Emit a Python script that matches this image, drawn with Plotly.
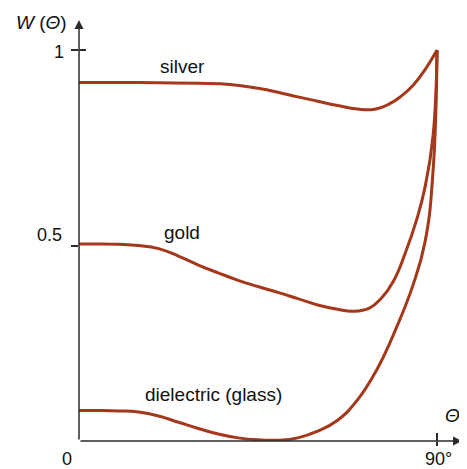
import plotly.graph_objects as go

# ---- data ----
theta_silver = [0, 10, 20, 30, 38, 45, 50, 55, 60, 65, 70, 74, 78, 81, 84, 87, 90]
w_silver     = [0.917, 0.917, 0.916, 0.915, 0.912, 0.902, 0.892, 0.880, 0.869, 0.858, 0.849, 0.848, 0.862, 0.882, 0.910, 0.950, 1.0]

theta_gold = [0, 5, 10, 15, 20, 25, 30, 35, 40, 45, 50, 55, 60, 65, 69, 73, 76, 79, 82, 85, 87, 89, 90]
w_gold     = [0.504, 0.504, 0.503, 0.500, 0.492, 0.473, 0.450, 0.430, 0.411, 0.395, 0.380, 0.364, 0.348, 0.337, 0.332, 0.340, 0.365, 0.408, 0.480, 0.570, 0.650, 0.780, 1.0]

theta_glass = [0, 5, 10, 15, 20, 25, 30, 35, 40, 45, 50, 55, 60, 65, 70, 75, 80, 84, 87, 89, 90]
w_glass     = [0.078, 0.078, 0.077, 0.074, 0.064, 0.048, 0.032, 0.018, 0.008, 0.003, 0.002, 0.008, 0.025, 0.053, 0.105, 0.185, 0.295, 0.400, 0.510, 0.690, 1.0]

series_names = ["silver", "gold", "dielectric (glass)"]
label_pos = [(25.9, 0.957), (25.9, 0.532), (33.7, 0.118)]

x_tick_vals = [90]
x_tick_text = ["90°"]
y_tick_vals = [0.5, 1]
y_tick_text = ["0.5", "1"]
origin_text = "0"

LINE = "#A5381B"
AX = "#2b2b2b"
TXT = "#111"
FONT = "Liberation Sans, Arial, sans-serif"

XMAX = 96.28
YMAX = 1.0767

fig = go.Figure()
for th, w, nm in zip([theta_silver, theta_gold, theta_glass], [w_silver, w_gold, w_glass], series_names):
    fig.add_trace(go.Scatter(x=th, y=w, mode="lines", name=nm,
                             line=dict(color=LINE, width=3, shape="spline", smoothing=1.3),
                             showlegend=False, hoverinfo="skip"))
# dummy trace for overlay axes (inside tick marks)
fig.add_trace(go.Scatter(x=[None], y=[None], xaxis="x2", yaxis="y2", showlegend=False))

common = dict(showgrid=False, zeroline=False, showline=False, showticklabels=False,
              automargin=False, tickwidth=1.5, tickcolor=AX)
# page body has an 8px margin, so the figure is 8px smaller and margins shifted
fig.update_layout(
    width=459, height=461,
    margin=dict(l=71, r=5, t=12, b=28, autoexpand=False),
    paper_bgcolor="white", plot_bgcolor="white",
    xaxis=dict(range=[0, XMAX], tickvals=x_tick_vals, ticks="outside", ticklen=4, **common),
    yaxis=dict(range=[0, YMAX], tickvals=y_tick_vals, ticks="outside", ticklen=7, **common),
    xaxis2=dict(range=[0, XMAX], overlaying="x", side="bottom",
                tickvals=x_tick_vals, ticks="inside", ticklen=8, **common),
    yaxis2=dict(range=[0, YMAX], overlaying="y", side="left",
                tickvals=[y_tick_vals[1]], ticks="inside", ticklen=7, **common),
)

def txt(size):
    return dict(family=FONT, size=size, color=TXT)

ann = []
# axis arrows
ann.append(dict(x=XMAX, y=0, ax=0, ay=0, xref="x", yref="y", axref="x", ayref="y",
                text="", showarrow=True, arrowhead=2, arrowsize=1.2, arrowwidth=1.5, arrowcolor=AX))
ann.append(dict(x=0, y=YMAX, ax=0, ay=0, xref="x", yref="y", axref="x", ayref="y",
                text="", showarrow=True, arrowhead=2, arrowsize=1.2, arrowwidth=1.5, arrowcolor=AX))
# axis titles
ann.append(dict(x=-0.097, y=0.993, xref="paper", yref="paper", text="<i>W</i> (<i>Θ</i>)",
                xanchor="center", yanchor="middle", showarrow=False, font=txt(19)))
ann.append(dict(x=93.8, y=0.064, xref="x", yref="y", text="<i>Θ</i>",
                xanchor="center", yanchor="middle", showarrow=False, font=txt(19)))
# tick labels
ann.append(dict(x=0, y=0, xref="x", yref="y", text=origin_text, showarrow=False,
                xanchor="center", yanchor="middle", xshift=-12, yshift=-18, font=txt(18)))
ann.append(dict(x=x_tick_vals[0], y=0, xref="x", yref="y", text=x_tick_text[0], showarrow=False,
                xanchor="center", yanchor="middle", xshift=1, yshift=-18, font=txt(18)))
ann.append(dict(x=0, y=y_tick_vals[0], xref="x", yref="y", text=y_tick_text[0], showarrow=False,
                xanchor="right", yanchor="middle", xshift=-15, yshift=11, font=txt(18)))
ann.append(dict(x=0, y=y_tick_vals[1], xref="x", yref="y", text=y_tick_text[1], showarrow=False,
                xanchor="right", yanchor="middle", xshift=-13, yshift=-2, font=txt(18)))
# series labels
for nm, (lx, ly) in zip(series_names, label_pos):
    ann.append(dict(x=lx, y=ly, xref="x", yref="y", text=nm, showarrow=False,
                    xanchor="center", yanchor="middle", font=txt(19)))
fig.update_layout(annotations=ann)

fig.write_html("out.html")
